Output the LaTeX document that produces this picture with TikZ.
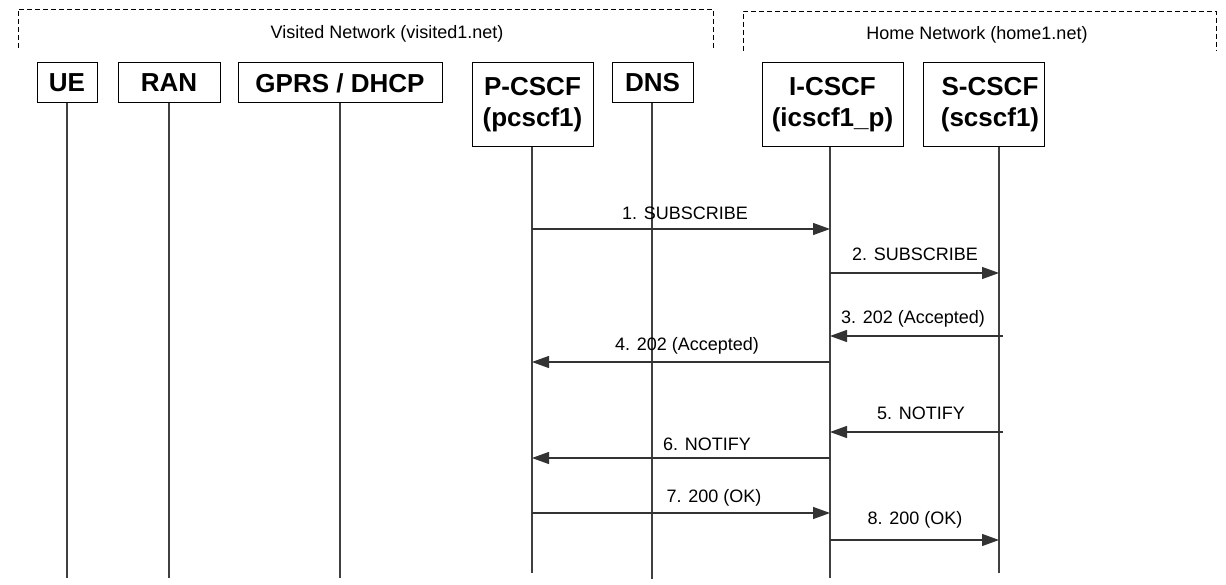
\documentclass[tikz,border=0pt]{standalone}
\usepackage{fontspec}
\setmainfont{Liberation Sans}
\usetikzlibrary{arrows.meta}
\begin{document}
\begin{tikzpicture}[x=1pt,y=-1pt,
  ent/.style={draw=black, line width=1pt, inner sep=0pt, font=\fontsize{26}{31}\selectfont\bfseries, align=center},
  hdr/.style={inner sep=0pt, font=\fontsize{26}{31}\selectfont\bfseries, align=center},
  life/.style={line width=1.2pt, draw=black!75},
  msg/.style={line width=1.2pt, draw=black!80, -{Triangle[length=17pt,width=12pt]}},
  lbl/.style={font=\fontsize{18}{20}\selectfont, inner sep=0pt},
  zone/.style={draw=black, line width=0.8pt, dash pattern=on 5pt off 3pt},
  ztitle/.style={font=\fontsize{18}{20}\selectfont, inner sep=0pt},
]
\useasboundingbox (0,0) rectangle (1226,585);
% network zones
\draw[zone] (18,48) -- (18,9) -- (713,9) -- (713,48);
\draw[zone] (743,51) -- (743,11) -- (1216,11) -- (1216,51);
\node[ztitle] (visited) at (387,34) {Visited Network (visited1.net)};
\node[ztitle] (home) at (977,35) {Home Network (home1.net)};
% entities
\node[ent, minimum width=60pt, minimum height=40pt] (ue) at (67,83) {UE};
\node[ent, minimum width=102pt, minimum height=40pt] (ran) at (169,83) {RAN};
\node[ent, minimum width=204pt, minimum height=40pt] (gprs) at (340,83) {GPRS / DHCP};
\node[ent, minimum width=121pt, minimum height=84pt] (pcscf) at (532.5,105) {P-CSCF\\(pcscf1)};
\node[ent, minimum width=81pt, minimum height=40pt] (dns) at (652.5,83) {DNS};
\node[ent, minimum width=141pt, minimum height=84pt] (icscf) at (832.5,105) {I-CSCF\\(icscf1\_p)};
\node[ent, minimum width=121pt, minimum height=84pt] (scscf) at (983.5,105) {};
\node[hdr] (scscft) at (990,105) {S-CSCF\\(scscf1)};
% lifelines
\coordinate (ueEnd) at (67,578);
\coordinate (ranEnd) at (169,578);
\coordinate (gprsEnd) at (340,578);
\coordinate (pEnd) at (532,573);
\coordinate (dnsEnd) at (652,579);
\coordinate (iEnd) at (830,578);
\coordinate (sEnd) at (999,573);
\draw[life] (ue.south -| ueEnd) -- (ueEnd);
\draw[life] (ran.south -| ranEnd) -- (ranEnd);
\draw[life] (gprs.south -| gprsEnd) -- (gprsEnd);
\draw[life] (pcscf.south -| pEnd) -- (pEnd);
\draw[life] (dns.south -| dnsEnd) -- (dnsEnd);
\draw[life] (icscf.south -| iEnd) -- (iEnd);
\draw[life] (scscf.south -| sEnd) -- (sEnd);
% messages
\draw[msg] (pEnd |- 0,229) -- (iEnd |- 0,229);
\node[lbl] (l1) at (685,213) {1. SUBSCRIBE};
\draw[msg] (iEnd |- 0,273) -- (sEnd |- 0,273);
\node[lbl] (l2) at (915,254) {2. SUBSCRIBE};
\draw[msg] ([xshift=4pt]sEnd |- 0,336) -- (iEnd |- 0,336);
\node[lbl] (l3) at (913,319) {3. 202 (Accepted)};
\draw[msg] (iEnd |- 0,362) -- (pEnd |- 0,362);
\node[lbl] (l4) at (687,346) {4. 202 (Accepted)};
\draw[msg] ([xshift=4pt]sEnd |- 0,432) -- (iEnd |- 0,432);
\node[lbl] (l5) at (921,413) {5. NOTIFY};
\draw[msg] (iEnd |- 0,458) -- (pEnd |- 0,458);
\node[lbl] (l6) at (707,444) {6. NOTIFY};
\draw[msg] (pEnd |- 0,513) -- (iEnd |- 0,513);
\node[lbl] (l7) at (714,498) {7. 200 (OK)};
\draw[msg] (iEnd |- 0,540) -- (sEnd |- 0,540);
\node[lbl] (l8) at (915,520) {8. 200 (OK)};
\end{tikzpicture}
\end{document}
